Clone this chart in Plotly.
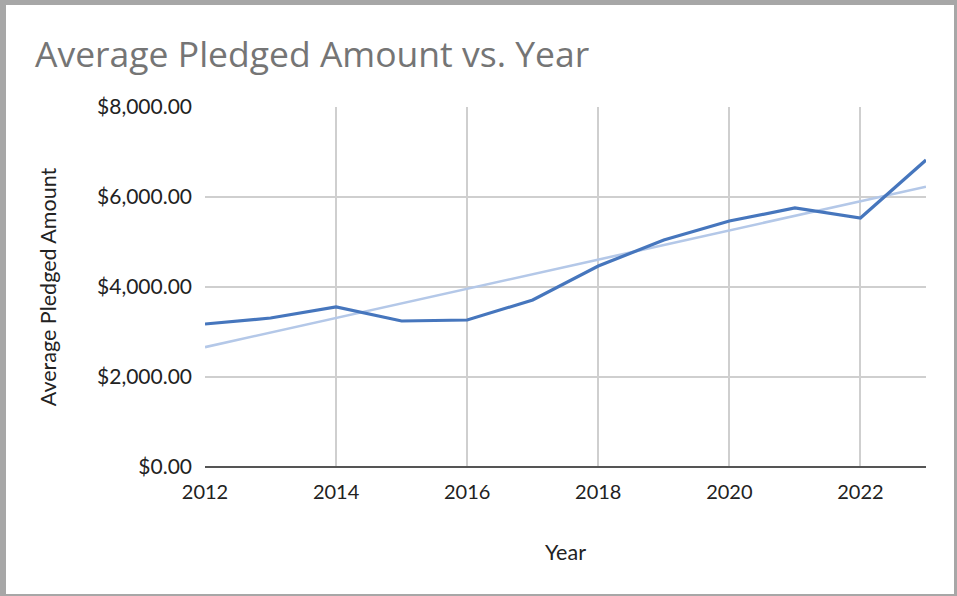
import numpy as np
import plotly.graph_objects as go

years = [2012, 2013, 2014, 2015, 2016, 2017, 2018, 2019, 2020, 2021, 2022, 2023]
avg_pledged = [3178, 3311, 3556, 3244, 3267, 3711, 4467, 5044, 5467, 5756, 5533, 6822]
x_ticks = [2012, 2014, 2016, 2018, 2020, 2022]
y_ticks = [0, 2000, 4000, 6000, 8000]

slope, intercept = np.polyfit(years, avg_pledged, 1)
trend = [slope * y + intercept for y in years]

W, H = 957, 596
L, R, T, B = 205, 31, 107, 129
pw, ph = W - L - R, H - T - B

def px_x(p):
    return (p - L) / pw

def px_y(p):
    return (H - B - p) / ph

fig = go.Figure()
fig.add_trace(go.Scatter(x=years, y=trend, mode="lines",
                         line=dict(color="#b4c8e8", width=2.6), hoverinfo="skip"))
fig.add_trace(go.Scatter(x=years, y=avg_pledged, mode="lines",
                         line=dict(color="#4676bd", width=3.2)))

fig.add_shape(type="rect", xref="paper", yref="paper", layer="below",
              x0=px_x(6), x1=px_x(954), y0=px_y(594), y1=px_y(5),
              fillcolor="white", line=dict(width=0))

fig.update_layout(
    width=W, height=H,
    margin=dict(l=L, r=R, t=T, b=B),
    paper_bgcolor="#a7a7a7",
    plot_bgcolor="white",
    showlegend=False,
    title=dict(text="Average Pledged Amount vs. Year",
               font=dict(family="Open Sans", size=35.5, color="#757575"),
               x=35 / W, xanchor="left",
               y=1 - 55 / H, yanchor="middle"),
    font=dict(family="Lato", size=19, color="#222222"),
)
fig.update_xaxes(range=[2012, 2023], tickvals=x_ticks, showgrid=True,
                 gridcolor="#cfcfcf", gridwidth=1.5, zeroline=False,
                 showline=False, ticks="", ticklabelstandoff=11,
                 tickfont=dict(family="Lato", size=20, color="#222222"),
                 title=dict(text="Year", standoff=42,
                            font=dict(family="Lato", size=21.5, color="#222222")))
fig.update_yaxes(range=[0, 8000], tickvals=y_ticks, tickformat="$,.2f",
                 showgrid=True, gridcolor="#cfcfcf", gridwidth=1.5,
                 zeroline=True, zerolinecolor="#555555", zerolinewidth=2,
                 showline=False, ticks="", ticklabelstandoff=12,
                 tickfont=dict(family="Lato", size=21, color="#222222"),
                 title=dict(text="Average Pledged Amount", standoff=34,
                            font=dict(family="Lato", size=21.5, color="#222222")))

fig.write_html("out.html", config={"displayModeBar": False},
               post_script="document.body.style.margin='0';document.body.style.overflow='hidden';")
